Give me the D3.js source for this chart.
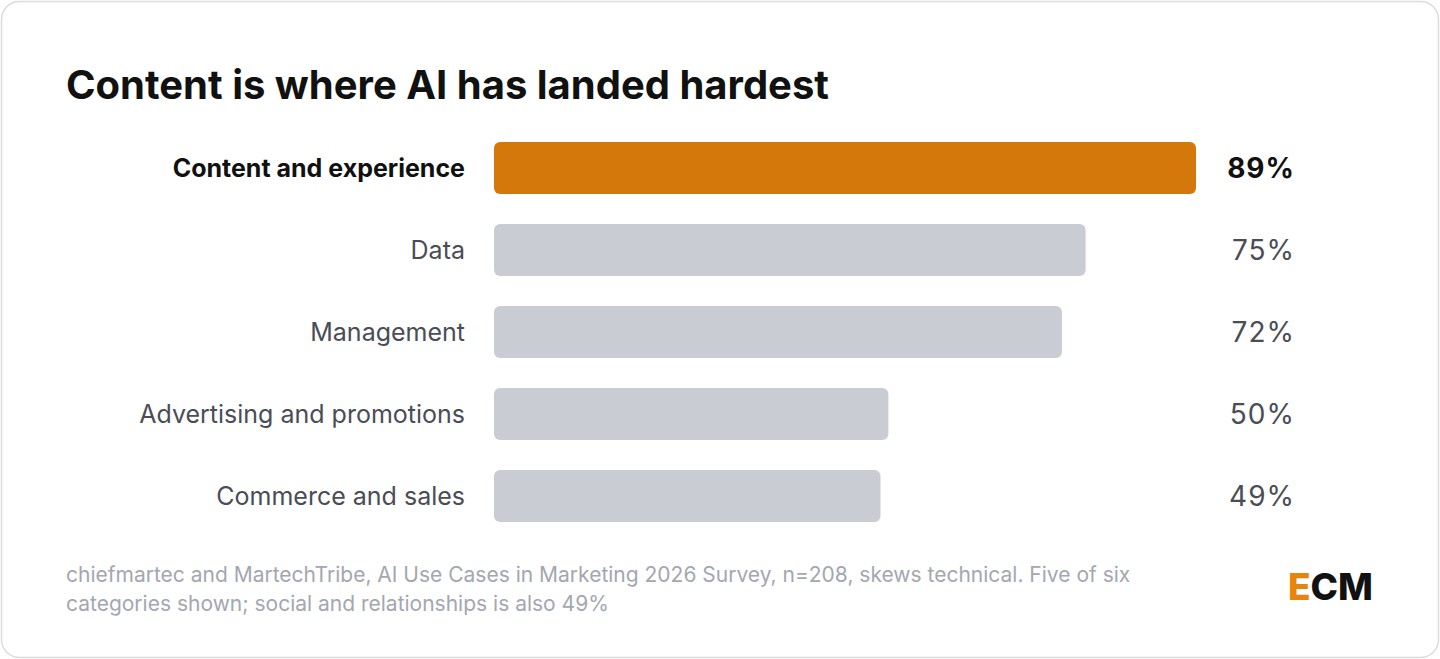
<!DOCTYPE html>
<html><head><meta charset="utf-8">
<script src="https://cdn.jsdelivr.net/npm/d3@7"></script>
<style>body{margin:0;background:#fff;font-family:Inter,sans-serif;}</style>
</head><body>
<svg id="c" width="1440" height="659"></svg>
<script>
const categories = ["Content and experience","Data","Management","Advertising and promotions","Commerce and sales"];
const values = [89,75,72,50,49];
const highlight = "Content and experience";
const title = "Content is where AI has landed hardest";
const note = ["chiefmartec and MartechTribe, AI Use Cases in Marketing 2026 Survey, n=208, skews technical. Five of six",
              "categories shown; social and relationships is also 49%"];

const svg = d3.select("#c");
svg.append("rect").attr("x",1.5).attr("y",1.5).attr("width",1437).attr("height",656)
  .attr("rx",18).attr("fill","#fff").attr("stroke","#dcdcdc").attr("stroke-width",1.5);
svg.append("text").attr("x",66).attr("y",99).attr("font-size",40).attr("font-weight",700)
  .attr("fill","#111").text(title);

const x = d3.scaleLinear().domain([0,100]).range([494,494+788.8]);
const y = d3.scaleBand().domain(categories).range([127,537]).paddingInner(0.366).paddingOuter(0.183);

const g = svg.append("g");
g.selectAll("rect.bar").data(categories).join("rect").attr("class","bar")
  .attr("x",x(0)).attr("y",d=>y(d)).attr("height",y.bandwidth())
  .attr("width",(d,i)=>x(values[i])-x(0)).attr("rx",6)
  .attr("fill",d=>d===highlight?"#d4780b":"#c9ccd3");
g.selectAll("text.lab").data(categories).join("text")
  .attr("x",465).attr("y",d=>y(d)+y.bandwidth()/2).attr("dy","0.35em").attr("text-anchor","end")
  .attr("font-size",25).attr("font-weight",d=>d===highlight?700:400)
  .attr("fill",d=>d===highlight?"#111":"#4a4d55").text(d=>d);
g.selectAll("text.val").data(categories).join("text")
  .attr("x",1295).attr("y",d=>y(d)+y.bandwidth()/2).attr("dy","0.35em").attr("text-anchor","end")
  .attr("font-size",28).attr("font-weight",d=>d===highlight?700:400).attr("letter-spacing",1)
  .attr("fill",d=>d===highlight?"#111":"#4a4d55").text((d,i)=>values[i]+"%");

note.forEach((t,i)=>svg.append("text").attr("x",66).attr("y",582+i*29).attr("font-size",21)
  .attr("fill","#a3a7af").text(t));
const logo = svg.append("text").attr("x",1288).attr("y",600).attr("font-size",37).attr("font-weight",800);
logo.append("tspan").attr("fill","#e8830c").text("E");
logo.append("tspan").attr("fill","#111").text("CM");
</script>
</body></html>
